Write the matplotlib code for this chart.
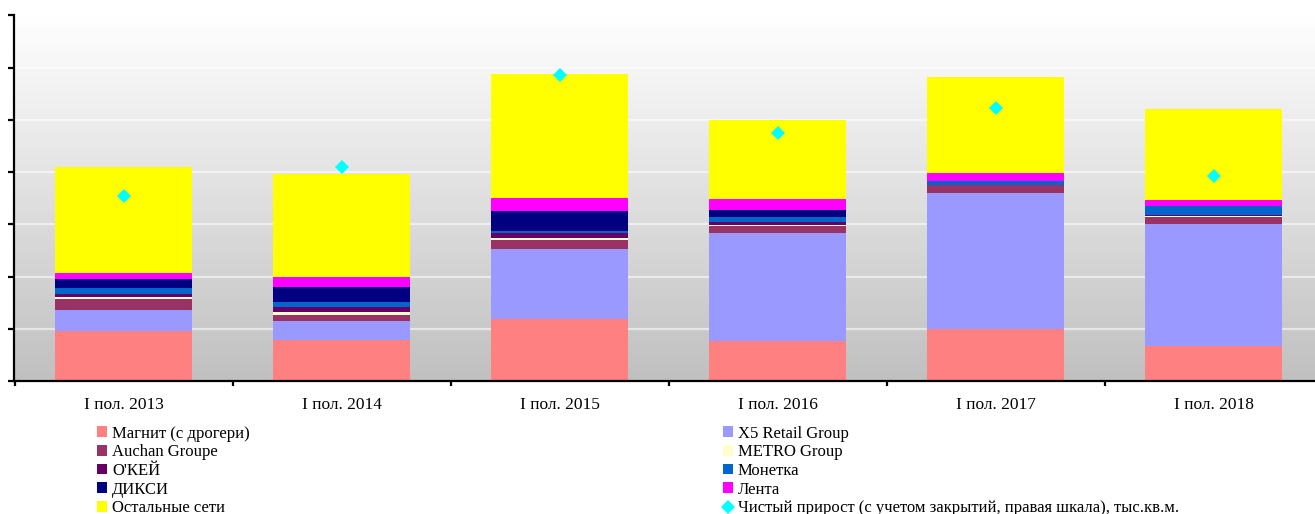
import numpy as np
import matplotlib
matplotlib.use("Agg")
import matplotlib.pyplot as plt
from matplotlib.patches import Patch
from matplotlib.lines import Line2D
from matplotlib.colors import LinearSegmentedColormap

categories = ["I пол. 2013", "I пол. 2014", "I пол. 2015", "I пол. 2016", "I пол. 2017", "I пол. 2018"]

magnit  = [192, 158, 238, 153, 199, 135]
x5      = [80, 72, 268, 414, 521, 467]
auchan  = [42, 23, 34, 27, 30, 27]
metro   = [8, 10, 8, 5, 0, 4]
okey    = [11, 20, 19, 10, 1, 4]
monetka = [23, 19, 8, 19, 14, 32]
dixy    = [34, 57, 77, 27, 2, 3]
lenta   = [23, 38, 50, 42, 31, 20]
others  = [406, 395, 475, 303, 368, 349]
net_growth = [709, 819, 1173, 951, 1047, 785]

series = [
    ("Магнит (с дрогери)", magnit, "#FF8080"),
    ("X5 Retail Group", x5, "#9999FF"),
    ("Auchan Groupe", auchan, "#993366"),
    ("METRO Group", metro, "#FFFFCC"),
    ("O'КЕЙ", okey, "#660066"),
    ("Монетка", monetka, "#0066CC"),
    ("ДИКСИ", dixy, "#000080"),
    ("Лента", lenta, "#FF00FF"),
    ("Остальные сети", others, "#FFFF00"),
]
net_label = "Чистый прирост (с учетом закрытий, правая шкала), тыс.кв.м."

plt.rcParams['font.family'] = ['Liberation Serif', 'DejaVu Serif']

fig = plt.figure(figsize=(13.15, 5.14), dpi=100)
ax = fig.add_axes([14.5/1315, (514-381)/514, 1308/1315, (381-15.5)/514])

x = np.arange(len(categories))

# gradient background
grad = np.linspace(0, 1, 256).reshape(-1, 1)
cmap = LinearSegmentedColormap.from_list("bg", ["#C0C0C0", "#FFFFFF"])
ax.imshow(grad, aspect='auto', cmap=cmap, extent=[0, 1, 0, 1], origin='lower',
          transform=ax.transAxes, zorder=-2)
ax.set_xlim(-0.5, len(categories)-0.5)
ax.set_ylim(0, 1400)

ax.set_yticks(np.arange(0, 1401, 200))
ax.yaxis.grid(True, color='white', lw=1.6, alpha=0.55)
ax.set_axisbelow(True)

bottom = np.zeros(len(categories))
handles = {}
for name, vals, col in series:
    vals = np.array(vals, dtype=float)
    ax.bar(x, vals, width=0.628, bottom=bottom, color=col, zorder=2, linewidth=0)
    handles[name] = Patch(facecolor=col, edgecolor='none')
    bottom += vals

ax2 = ax.twinx()
ax2.set_ylim(0, 1400)
ax2.plot(x, net_growth, linestyle='none', marker='D', ms=7.5, color='#00FFFF',
         markeredgewidth=0, zorder=5)
for s in ax2.spines.values():
    s.set_visible(False)
ax2.set_yticks([])
handles[net_label] = Line2D([], [], linestyle='none', marker='D', ms=7.5,
                            color='#00FFFF', markeredgewidth=0)

for s in ['top', 'right']:
    ax.spines[s].set_visible(False)
for s in ['left', 'bottom']:
    ax.spines[s].set_linewidth(1.6)
    ax.spines[s].set_color('black')

ax.tick_params(axis='y', direction='out', length=4.5, width=1.6, labelleft=False)
ax.set_xticks(x)
ax.set_xticklabels(categories, fontsize=12.5)
ax.tick_params(axis='x', which='major', length=0, pad=11.8)
ax.set_xticks(np.arange(-0.5, len(categories), 1.0), minor=True)
ax.tick_params(axis='x', which='minor', direction='out', length=3.5, width=1.6)

left_names = ["Магнит (с дрогери)", "Auchan Groupe", "O'КЕЙ", "ДИКСИ", "Остальные сети"]
right_names = ["X5 Retail Group", "METRO Group", "Монетка", "Лента", net_label]

common = dict(frameon=False, fontsize=12, handlelength=0.6, handleheight=0.6,
              handletextpad=0.3, labelspacing=0.16, borderpad=0, borderaxespad=0,
              loc='upper left')
fig.legend([handles[n] for n in left_names], left_names,
           bbox_to_anchor=(97/1315, (514-425.5)/514), **common)
fig.legend([handles[n] for n in right_names], right_names,
           bbox_to_anchor=(723/1315, (514-425.5)/514), **common)

fig.savefig("out.png", dpi=100)
